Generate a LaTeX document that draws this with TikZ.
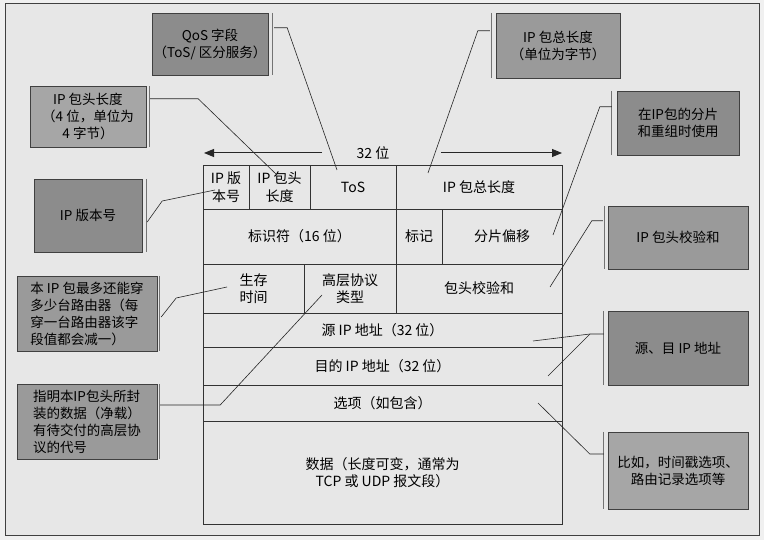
\documentclass[tikz,border=0pt]{standalone}
\usepackage{fontspec}
\setmainfont{Noto Sans CJK SC}
\usepackage{xcolor}
\usetikzlibrary{positioning,arrows.meta}
\definecolor{pagebg}{HTML}{F0F0F0}
\definecolor{framebg}{HTML}{E7E7E7}
\definecolor{noteDark}{HTML}{8C8C8C}
\definecolor{noteMid}{HTML}{9A9A9A}
\definecolor{noteLight}{HTML}{A6A6A6}

\begin{document}
\begin{tikzpicture}[x=1pt, y=-1pt,
    cell/.style={draw=black!80, inner sep=0pt, align=center, font=\fontsize{14}{17.5}\selectfont},
    note/.style={draw=black!75, fill=#1, inner sep=0pt, align=center, font=\fontsize{13.5}{17}\selectfont},
    note/.default=noteDark,
    leader/.style={black!85, line width=0.6pt},
    sideline/.style={black!55, line width=0.8pt},
    bitarrow/.style={-{Triangle[length=10pt,width=8pt]}, line width=1pt, black!85}]
    \useasboundingbox (0,0) rectangle (764,540);

    % Page and frame
    \fill[pagebg] (0,0) rectangle (764,540);
    \draw[black!75, fill=framebg] (5,3) rectangle (759,535);

    % Header fields, row 1
    \node[cell, minimum width=46, minimum height=44] (ver) at (226,187) {IP 版\\本号};
    \node[cell, minimum width=61, minimum height=44] (hlen) at (279.5,187) {IP 包头\\长度};
    \node[cell, minimum width=86, minimum height=44] (tos) at (353,187) {ToS};
    \node[cell, minimum width=166, minimum height=44] (tlen) at (479,187) {IP 包总长度};

    % Row 2
    \node[cell, minimum width=193, minimum height=55] (ident) at (299.5,236.5) {标识符（16 位）};
    \node[cell, minimum width=46, minimum height=55] (flag) at (419,236.5) {标记};
    \node[cell, minimum width=120, minimum height=55] (frag) at (502,236.5) {分片偏移};

    % Row 3
    \node[cell, minimum width=101, minimum height=49] (ttl) at (253.5,288.5) {生存\\时间};
    \node[cell, minimum width=92, minimum height=49] (proto) at (350,288.5) {高层协议\\类型};
    \node[cell, minimum width=166, minimum height=49] (csum) at (479,288.5) {包头校验和};

    % Addresses, options, data
    \node[cell, minimum width=359, minimum height=34] (src) at (382.5,330) {源 IP 地址（32 位）};
    \node[cell, minimum width=359, minimum height=38] (dst) at (382.5,366) {目的 IP 地址（32 位）};
    \node[cell, minimum width=359, minimum height=36] (opt) at (382.5,403) {选项（如包含）};
    \node[cell, minimum width=359, minimum height=103] (data) at (382.5,472.5) {数据（长度可变，通常为\\TCP 或 UDP 报文段）};

    % Width marker
    \node[font=\fontsize{14}{17}\selectfont] (bits) at (373,153) {32 位};
    \coordinate (bitsL) at (204,153);
    \coordinate (bitsR) at (562,153);
    \draw[bitarrow] ([xshift=-31pt]bits.west) -- (bitsL);
    \draw[bitarrow] ([xshift=48pt]bits.east) -- (bitsR);

    % Notes, left side
    \node[note, minimum width=116, minimum height=62] (qosbox) at (210,44) {QoS 字段\\（ToS/ 区分服务）};
    \node[note=noteLight, minimum width=116, minimum height=61] (hlenbox) at (88,116.5) {IP 包头长度\\（4 位，单位为\\4 字节）};
    \node[note, minimum width=108, minimum height=73] (verbox) at (88,215.5) {IP 版本号};
    \node[note=noteMid, minimum width=140, minimum height=75, align=left] (ttlbox) at (87,313.5) {本 IP 包最多还能穿\\多少台路由器（每\\穿一台路由器该字\\段值都会减一）};
    \node[note=noteMid, minimum width=140, minimum height=75, align=left] (protobox) at (87,421.5) {指明本IP包头所封\\装的数据（净载）\\有待交付的高层协\\议的代号};

    % Notes, right side
    \node[note=noteMid, minimum width=124, minimum height=65] (tlenbox) at (558,45.5) {IP 包总长度\\（单位为字节）};
    \node[note, minimum width=122, minimum height=64] (fragbox) at (678,123) {在IP包的分片\\和重组时使用};
    \node[note=noteMid, minimum width=140, minimum height=63] (csumbox) at (678,237.5) {IP 包头校验和};
    \node[note, minimum width=140, minimum height=74] (addrbox) at (678,348) {源、目 IP 地址};
    \node[note=noteLight, minimum width=140, minimum height=77] (optbox) at (678,470.5) {比如，时间戳选项、\\路由记录选项等};

    % Shadow edges of the notes
    \draw[sideline] ([xshift=4pt]qosbox.north east) -- ([xshift=4pt]qosbox.south east);
    \draw[sideline] ([xshift=3pt]hlenbox.north east) -- ([xshift=3pt]hlenbox.south east);
    \draw[sideline] ([xshift=4pt]verbox.north east) -- ([xshift=4pt]verbox.south east);
    \draw[sideline] ([xshift=2pt]ttlbox.north east) -- ([xshift=2pt]ttlbox.south east);
    \draw[sideline] ([xshift=2pt]protobox.north east) -- ([xshift=2pt]protobox.south east);
    \draw[sideline] ([xshift=-4pt]tlenbox.north west) -- ([xshift=-4pt]tlenbox.south west);
    \draw[sideline] ([xshift=-5pt]fragbox.north west) -- ([xshift=-5pt]fragbox.south west);
    \draw[sideline] ([xshift=-3pt]csumbox.north west) -- ([xshift=-3pt]csumbox.south west);
    \draw[sideline] ([xshift=-4pt]addrbox.north west) -- ([xshift=-4pt]addrbox.south west);
    \draw[sideline] ([xshift=-4pt]optbox.north west) -- ([xshift=-4pt]optbox.south west);

    % Points the leaders end at
    \coordinate (tosPt) at (337,170);
    \coordinate (hlenPt) at (277,175);
    \coordinate (verPt) at (215,190);
    \coordinate (ttlPt) at (227,287);
    \coordinate (protoPt) at (322,295);
    \coordinate (tlenPt) at (428,173);
    \coordinate (fragPt) at (553,235);
    \coordinate (csumPt) at (550,287);
    \coordinate (srcPt) at (533,341);
    \coordinate (dstPt) at (548,376);
    \coordinate (optPt) at (538,403);
    \coordinate (addrFork) at (590,334);

    % Leaders
    \draw[leader] ([shift={(6,15)}]qosbox.north east) -- ++(13,0) -- (tosPt);
    \draw[leader] ([shift={(4,13)}]hlenbox.north east) -- ++(48,0) -- (hlenPt);
    \draw[leader] ([shift={(5,6.5)}]verbox.east) -- ++(15,-21) -- (verPt);
    \draw[leader] ([shift={(4,3.5)}]ttlbox.east) -- ++(15,-19) -- (ttlPt);
    \draw[leader] ([shift={(3,-16.5)}]protobox.east) -- ++(60,0) -- (protoPt);
    \draw[leader] ([shift={(-6,18)}]tlenbox.north west) -- ++(-12,0) -- (tlenPt);
    \draw[leader] ([shift={(-5,16)}]fragbox.north west) -- ++(-12,0) -- (fragPt);
    \draw[leader] ([shift={(-5,15)}]csumbox.north west) -- ++(-11,0) -- (csumPt);
    \draw[leader] ([shift={(-4,-14)}]addrbox.west) -- (addrFork) -- (srcPt);
    \draw[leader] (addrFork) -- (dstPt);
    \draw[leader] ([shift={(-4,-16.5)}]optbox.west) -- ++(-14,0) -- (optPt);
\end{tikzpicture}
\end{document}
